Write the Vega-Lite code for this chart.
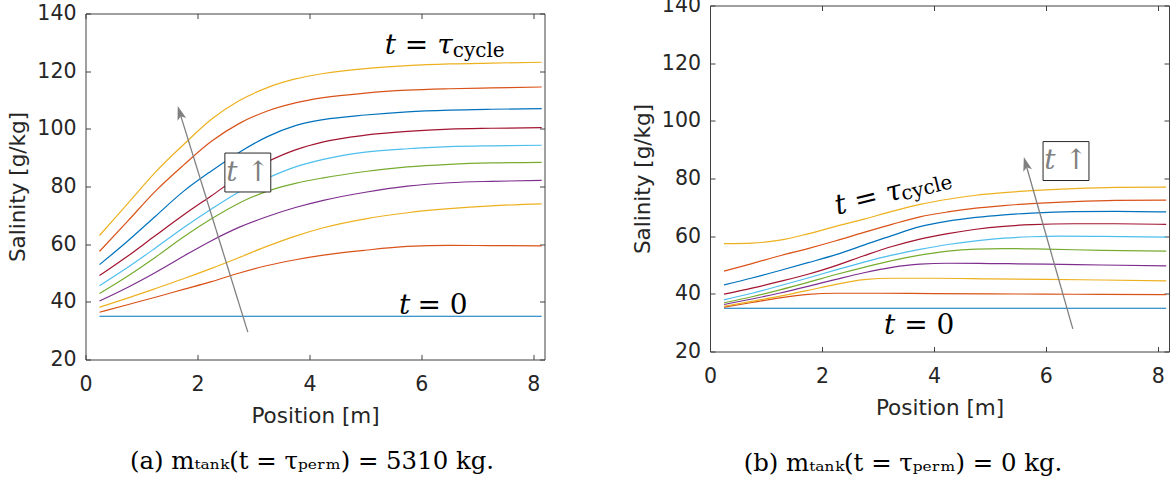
{
  "$schema": "https://vega.github.io/schema/vega-lite/v6.json",
  "background": "white",
  "padding": {"left": 7.5, "top": -4.5, "right": 0, "bottom": 0},
  "spacing": 86.5,
  "config": {
    "view": {"stroke": null},
    "axis": {
      "labelFont": "DejaVu Sans", "titleFont": "DejaVu Sans",
      "labelFontSize": 20.5, "titleFontSize": 21.5, "titleFontWeight": "normal",
      "labelColor": "#262626", "titleColor": "#262626",
      "domainColor": "#404040", "tickColor": "#404040", "domainWidth": 1, "tickWidth": 1,
      "grid": false
    }
  },
  "datasets": {
    "L": [
      {"x":0.25,"y":35,"s":0},{"x":8.15,"y":35,"s":0},
      {"x":0.25,"y":36.4,"s":1},{"x":0.75,"y":39.0,"s":1},{"x":1.25,"y":41.6,"s":1},{"x":1.75,"y":44.3,"s":1},{"x":2.25,"y":47.0,"s":1},{"x":2.75,"y":50.0,"s":1},{"x":3.25,"y":52.6,"s":1},{"x":3.75,"y":54.6,"s":1},{"x":4.25,"y":56.2,"s":1},{"x":5,"y":57.9,"s":1},{"x":5.75,"y":59.2,"s":1},{"x":6.5,"y":59.6,"s":1},{"x":7.25,"y":59.5,"s":1},{"x":8.15,"y":59.4,"s":1},
      {"x":0.25,"y":38.1,"s":2},{"x":0.75,"y":41.3,"s":2},{"x":1.25,"y":44.6,"s":2},{"x":1.75,"y":48.0,"s":2},{"x":2.25,"y":51.6,"s":2},{"x":2.75,"y":55.4,"s":2},{"x":3.25,"y":59.3,"s":2},{"x":3.75,"y":62.8,"s":2},{"x":4.25,"y":65.7,"s":2},{"x":5,"y":68.8,"s":2},{"x":5.75,"y":70.9,"s":2},{"x":6.5,"y":72.3,"s":2},{"x":7.25,"y":73.3,"s":2},{"x":8.15,"y":74.0,"s":2},
      {"x":0.25,"y":40.3,"s":3},{"x":0.75,"y":45.0,"s":3},{"x":1.25,"y":50.2,"s":3},{"x":1.75,"y":55.8,"s":3},{"x":2.25,"y":61.2,"s":3},{"x":2.75,"y":65.9,"s":3},{"x":3.25,"y":69.6,"s":3},{"x":3.75,"y":72.7,"s":3},{"x":4.25,"y":75.2,"s":3},{"x":5,"y":78.0,"s":3},{"x":5.75,"y":80.1,"s":3},{"x":6.5,"y":81.3,"s":3},{"x":7.25,"y":81.8,"s":3},{"x":8.15,"y":82.1,"s":3},
      {"x":0.25,"y":42.9,"s":4},{"x":0.75,"y":48.9,"s":4},{"x":1.25,"y":55.5,"s":4},{"x":1.75,"y":62.5,"s":4},{"x":2.25,"y":68.8,"s":4},{"x":2.75,"y":74.3,"s":4},{"x":3.25,"y":78.4,"s":4},{"x":3.75,"y":81.1,"s":4},{"x":4.25,"y":83.0,"s":4},{"x":5,"y":85.2,"s":4},{"x":5.75,"y":86.8,"s":4},{"x":6.5,"y":87.7,"s":4},{"x":7.25,"y":88.2,"s":4},{"x":8.15,"y":88.4,"s":4},
      {"x":0.25,"y":45.6,"s":5},{"x":0.75,"y":51.9,"s":5},{"x":1.25,"y":58.7,"s":5},{"x":1.75,"y":65.7,"s":5},{"x":2.25,"y":72.2,"s":5},{"x":2.75,"y":78.2,"s":5},{"x":3.25,"y":82.9,"s":5},{"x":3.75,"y":86.8,"s":5},{"x":4.25,"y":89.4,"s":5},{"x":5,"y":91.9,"s":5},{"x":5.75,"y":93.1,"s":5},{"x":6.5,"y":93.8,"s":5},{"x":7.25,"y":94.1,"s":5},{"x":8.15,"y":94.3,"s":5},
      {"x":0.25,"y":49.1,"s":6},{"x":0.75,"y":55.8,"s":6},{"x":1.25,"y":63.0,"s":6},{"x":1.75,"y":70.1,"s":6},{"x":2.25,"y":76.8,"s":6},{"x":2.75,"y":83.5,"s":6},{"x":3.25,"y":88.6,"s":6},{"x":3.75,"y":92.7,"s":6},{"x":4.25,"y":95.5,"s":6},{"x":5,"y":97.8,"s":6},{"x":5.75,"y":99.1,"s":6},{"x":6.5,"y":99.9,"s":6},{"x":7.25,"y":100.2,"s":6},{"x":8.15,"y":100.4,"s":6},
      {"x":0.25,"y":52.9,"s":7},{"x":0.75,"y":61.0,"s":7},{"x":1.25,"y":69.7,"s":7},{"x":1.75,"y":78.3,"s":7},{"x":2.25,"y":85.4,"s":7},{"x":2.75,"y":91.9,"s":7},{"x":3.25,"y":97.3,"s":7},{"x":3.75,"y":101.1,"s":7},{"x":4.25,"y":103.2,"s":7},{"x":5,"y":104.8,"s":7},{"x":5.75,"y":105.9,"s":7},{"x":6.5,"y":106.5,"s":7},{"x":7.25,"y":106.8,"s":7},{"x":8.15,"y":107.0,"s":7},
      {"x":0.25,"y":57.5,"s":8},{"x":0.75,"y":67.9,"s":8},{"x":1.25,"y":78.4,"s":8},{"x":1.75,"y":87.4,"s":8},{"x":2.25,"y":95.7,"s":8},{"x":2.75,"y":101.9,"s":8},{"x":3.25,"y":106.2,"s":8},{"x":3.75,"y":109.0,"s":8},{"x":4.25,"y":110.8,"s":8},{"x":5,"y":112.4,"s":8},{"x":5.75,"y":113.4,"s":8},{"x":6.5,"y":113.9,"s":8},{"x":7.25,"y":114.2,"s":8},{"x":8.15,"y":114.5,"s":8},
      {"x":0.25,"y":63.0,"s":9},{"x":0.75,"y":74.0,"s":9},{"x":1.25,"y":85.0,"s":9},{"x":1.75,"y":94.5,"s":9},{"x":2.25,"y":103.3,"s":9},{"x":2.75,"y":109.8,"s":9},{"x":3.25,"y":114.3,"s":9},{"x":3.75,"y":117.3,"s":9},{"x":4.25,"y":119.2,"s":9},{"x":5,"y":120.9,"s":9},{"x":5.75,"y":121.9,"s":9},{"x":6.5,"y":122.5,"s":9},{"x":7.25,"y":122.8,"s":9},{"x":8.15,"y":123.1,"s":9}
    ],
    "R": [
      {"x":0.25,"y":35,"s":0},{"x":8.15,"y":35,"s":0},
      {"x":0.25,"y":35.4,"s":1},{"x":0.75,"y":37.0,"s":1},{"x":1.25,"y":38.6,"s":1},{"x":1.75,"y":39.8,"s":1},{"x":2.25,"y":40.2,"s":1},{"x":3,"y":40.2,"s":1},{"x":4,"y":40.1,"s":1},{"x":5,"y":40.0,"s":1},{"x":6,"y":39.9,"s":1},{"x":7,"y":39.8,"s":1},{"x":8.15,"y":39.7,"s":1},
      {"x":0.25,"y":35.7,"s":2},{"x":0.75,"y":37.4,"s":2},{"x":1.25,"y":39.2,"s":2},{"x":1.75,"y":41.2,"s":2},{"x":2.25,"y":43.3,"s":2},{"x":2.75,"y":44.9,"s":2},{"x":3.25,"y":45.4,"s":2},{"x":4,"y":45.4,"s":2},{"x":5,"y":45.2,"s":2},{"x":6,"y":45.0,"s":2},{"x":7,"y":44.8,"s":2},{"x":8.15,"y":44.5,"s":2},
      {"x":0.25,"y":36.3,"s":3},{"x":0.75,"y":38.2,"s":3},{"x":1.25,"y":40.3,"s":3},{"x":1.75,"y":42.6,"s":3},{"x":2.25,"y":45.0,"s":3},{"x":2.75,"y":47.3,"s":3},{"x":3.25,"y":49.2,"s":3},{"x":3.75,"y":50.3,"s":3},{"x":4.25,"y":50.6,"s":3},{"x":5,"y":50.5,"s":3},{"x":6,"y":50.3,"s":3},{"x":7,"y":50.0,"s":3},{"x":8.15,"y":49.7,"s":3},
      {"x":0.25,"y":36.9,"s":4},{"x":0.75,"y":39.0,"s":4},{"x":1.25,"y":41.4,"s":4},{"x":1.75,"y":44.0,"s":4},{"x":2.25,"y":46.7,"s":4},{"x":2.75,"y":49.2,"s":4},{"x":3.25,"y":51.5,"s":4},{"x":3.75,"y":53.4,"s":4},{"x":4.25,"y":54.8,"s":4},{"x":4.75,"y":55.5,"s":4},{"x":5.25,"y":55.7,"s":4},{"x":6,"y":55.5,"s":4},{"x":7,"y":55.1,"s":4},{"x":8.15,"y":54.8,"s":4},
      {"x":0.25,"y":37.9,"s":5},{"x":0.75,"y":40.2,"s":5},{"x":1.25,"y":42.8,"s":5},{"x":1.75,"y":45.5,"s":5},{"x":2.25,"y":48.3,"s":5},{"x":2.75,"y":51.0,"s":5},{"x":3.25,"y":53.4,"s":5},{"x":3.75,"y":55.4,"s":5},{"x":4.25,"y":57.1,"s":5},{"x":4.75,"y":58.4,"s":5},{"x":5.25,"y":59.3,"s":5},{"x":5.75,"y":59.8,"s":5},{"x":6.25,"y":60.0,"s":5},{"x":7,"y":59.9,"s":5},{"x":8.15,"y":59.7,"s":5},
      {"x":0.25,"y":39.9,"s":6},{"x":0.75,"y":42.0,"s":6},{"x":1.25,"y":44.3,"s":6},{"x":1.75,"y":46.8,"s":6},{"x":2.25,"y":49.8,"s":6},{"x":2.75,"y":53.2,"s":6},{"x":3.25,"y":56.4,"s":6},{"x":3.75,"y":59.0,"s":6},{"x":4.25,"y":60.9,"s":6},{"x":4.75,"y":62.4,"s":6},{"x":5.25,"y":63.4,"s":6},{"x":5.75,"y":64.0,"s":6},{"x":6.5,"y":64.3,"s":6},{"x":7.25,"y":64.3,"s":6},{"x":8.15,"y":64.1,"s":6},
      {"x":0.25,"y":43.1,"s":7},{"x":0.75,"y":45.5,"s":7},{"x":1.25,"y":48.1,"s":7},{"x":1.75,"y":50.8,"s":7},{"x":2.25,"y":53.6,"s":7},{"x":2.75,"y":56.9,"s":7},{"x":3.25,"y":60.2,"s":7},{"x":3.75,"y":63.3,"s":7},{"x":4.25,"y":65.2,"s":7},{"x":4.75,"y":66.5,"s":7},{"x":5.25,"y":67.4,"s":7},{"x":5.75,"y":68.0,"s":7},{"x":6.5,"y":68.5,"s":7},{"x":7.25,"y":68.6,"s":7},{"x":8.15,"y":68.4,"s":7},
      {"x":0.25,"y":47.9,"s":8},{"x":0.75,"y":50.5,"s":8},{"x":1.25,"y":53.2,"s":8},{"x":1.75,"y":55.7,"s":8},{"x":2.25,"y":58.4,"s":8},{"x":2.75,"y":61.3,"s":8},{"x":3.25,"y":64.1,"s":8},{"x":3.75,"y":66.7,"s":8},{"x":4.25,"y":68.4,"s":8},{"x":4.75,"y":69.7,"s":8},{"x":5.25,"y":70.6,"s":8},{"x":5.75,"y":71.3,"s":8},{"x":6.5,"y":72.0,"s":8},{"x":7.25,"y":72.4,"s":8},{"x":8.15,"y":72.5,"s":8},
      {"x":0.25,"y":57.4,"s":9},{"x":0.75,"y":57.6,"s":9},{"x":1.25,"y":58.6,"s":9},{"x":1.75,"y":60.8,"s":9},{"x":2.25,"y":63.4,"s":9},{"x":2.75,"y":65.9,"s":9},{"x":3.25,"y":68.6,"s":9},{"x":3.75,"y":71.0,"s":9},{"x":4.25,"y":72.8,"s":9},{"x":4.75,"y":74.2,"s":9},{"x":5.25,"y":75.1,"s":9},{"x":5.75,"y":75.8,"s":9},{"x":6.5,"y":76.5,"s":9},{"x":7.25,"y":76.9,"s":9},{"x":8.15,"y":77.0,"s":9}
    ]
  },
  "hconcat": [
    {
      "bounds": "flush",
      "spacing": 0,
      "vconcat": [
        {"width": 459, "height": 8, "data": {"values": []}, "mark": "point"},
        {
          "width": 459, "height": 346,
          "title": {"text": "(a) mₜₐₙₖ(t = τₚₑᵣₘ) = 5310 kg.", "orient": "bottom", "anchor": "middle", "dx": -3, "offset": 23, "font": "DejaVu Serif", "fontSize": 24.4, "fontWeight": "normal", "color": "#000000"},
          "layer": [
            {
              "data": {"name": "L"},
              "mark": {"type": "line", "strokeWidth": 1.2, "interpolate": "monotone"},
              "encoding": {
                "x": {"field": "x", "type": "quantitative", "scale": {"domain": [0, 8.2], "nice": false, "zero": false},
                      "axis": {"orient": "bottom", "values": [0, 2, 4, 6, 8], "title": "Position [m]", "tickSize": -5, "labelPadding": 19.5, "labelFlush": false, "titlePadding": 11}},
                "y": {"field": "y", "type": "quantitative", "scale": {"domain": [20, 140], "nice": false, "zero": false},
                      "axis": {"orient": "left", "values": [20, 40, 60, 80, 100, 120, 140], "title": "Salinity [g/kg]", "tickSize": -5, "labelPadding": 14.5, "titlePadding": 7}},
                "color": {"field": "s", "type": "nominal", "legend": null,
                          "scale": {"domain": [0,1,2,3,4,5,6,7,8,9], "range": ["#0072BD","#D95319","#EDB120","#7E2F8E","#77AC30","#4DBEEE","#A2142F","#0072BD","#D95319","#EDB120"]}}
              }
            },
            {
              "data": {"values": [{"x": 2.90, "y": 29.5, "x2": 1.691, "y2": 105.18}]},
              "mark": {"type": "rule", "color": "#808080", "strokeWidth": 1.3},
              "encoding": {
                "x": {"field": "x", "type": "quantitative", "axis": {"orient": "top", "values": [0, 2, 4, 6, 8], "labels": false, "tickSize": -5, "title": null}},
                "y": {"field": "y", "type": "quantitative", "axis": {"orient": "right", "values": [20, 40, 60, 80, 100, 120, 140], "labels": false, "tickSize": -5, "title": null}},
                "x2": {"field": "x2"}, "y2": {"field": "y2"}
              }
            },
            {
              "data": {"values": [{"x": 1.691, "y": 105.18}]},
              "mark": {"type": "point", "shape": "M0,-1L0.55,0.7L0,0.3L-0.55,0.7Z", "size": 270, "filled": true, "color": "#808080", "opacity": 1, "angle": 342.8},
              "encoding": {
                "x": {"field": "x", "type": "quantitative", "axis": null},
                "y": {"field": "y", "type": "quantitative", "axis": null}
              }
            },
            {
              "data": {"values": [{"x": 2.49, "x2": 3.31, "y": 91.6, "y2": 78.1}]},
              "mark": {"type": "rect", "fill": "white", "stroke": "#262626", "strokeWidth": 1},
              "encoding": {
                "x": {"field": "x", "type": "quantitative", "axis": null},
                "x2": {"field": "x2"},
                "y": {"field": "y", "type": "quantitative", "axis": null},
                "y2": {"field": "y2"}
              }
            },
            {
              "data": {"values": [{"x": 2.902, "y": 84.82, "t": "t ↑"}]},
              "mark": {"type": "text", "font": "DejaVu Serif", "fontSize": 28, "fontStyle": "italic", "color": "#808080", "align": "center", "baseline": "middle"},
              "encoding": {
                "x": {"field": "x", "type": "quantitative", "axis": null},
                "y": {"field": "y", "type": "quantitative", "axis": null},
                "text": {"field": "t"}
              }
            },
            {
              "data": {"values": [{"x": 5.345, "y": 126.0, "t": "t = τ"}, {"x": 5.6, "y": 35.85, "t": "t"}]},
              "mark": {"type": "text", "font": "DejaVu Serif", "fontSize": 28, "fontStyle": "italic", "color": "#000000", "align": "left", "baseline": "alphabetic"},
              "encoding": {
                "x": {"field": "x", "type": "quantitative", "axis": null},
                "y": {"field": "y", "type": "quantitative", "axis": null},
                "text": {"field": "t"}
              }
            },
            {
              "data": {"values": [{"x": 5.929, "y": 35.85, "t": "= 0"}]},
              "mark": {"type": "text", "font": "DejaVu Serif", "fontSize": 28, "color": "#000000", "align": "left", "baseline": "alphabetic"},
              "encoding": {
                "x": {"field": "x", "type": "quantitative", "axis": null},
                "y": {"field": "y", "type": "quantitative", "axis": null},
                "text": {"field": "t"}
              }
            },
            {
              "data": {"values": [{"x": 6.56, "y": 125.0, "t": "cycle"}]},
              "mark": {"type": "text", "font": "DejaVu Serif", "fontSize": 20, "color": "#000000", "align": "left", "baseline": "alphabetic"},
              "encoding": {
                "x": {"field": "x", "type": "quantitative", "axis": null},
                "y": {"field": "y", "type": "quantitative", "axis": null},
                "text": {"field": "t"}
              }
            }
          ],
          "resolve": {"axis": {"x": "independent", "y": "independent"}}
        }
      ]
    },
    {
      "width": 459, "height": 346,
      "title": {"text": "(b) mₜₐₙₖ(t = τₚₑᵣₘ) = 0 kg.", "orient": "bottom", "anchor": "middle", "dx": -36.5, "offset": 32.5, "font": "DejaVu Serif", "fontSize": 24.4, "fontWeight": "normal", "color": "#000000"},
      "layer": [
        {
          "data": {"name": "R"},
          "mark": {"type": "line", "strokeWidth": 1.2, "interpolate": "monotone"},
          "encoding": {
            "x": {"field": "x", "type": "quantitative", "scale": {"domain": [0, 8.2], "nice": false, "zero": false},
                  "axis": {"orient": "bottom", "values": [0, 2, 4, 6, 8], "title": "Position [m]", "tickSize": -5, "labelPadding": 19.5, "labelFlush": false, "titlePadding": 11}},
            "y": {"field": "y", "type": "quantitative", "scale": {"domain": [20, 140], "nice": false, "zero": false},
                  "axis": {"orient": "left", "values": [20, 40, 60, 80, 100, 120, 140], "title": "Salinity [g/kg]", "tickSize": -5, "labelPadding": 14.5, "titlePadding": 7}},
            "color": {"field": "s", "type": "nominal", "legend": null,
                      "scale": {"domain": [0,1,2,3,4,5,6,7,8,9], "range": ["#0072BD","#D95319","#EDB120","#7E2F8E","#77AC30","#4DBEEE","#A2142F","#0072BD","#D95319","#EDB120"]}}
          }
        },
        {
          "data": {"values": [{"x": 6.482, "y": 27.87, "x2": 5.647, "y2": 84.69}]},
          "mark": {"type": "rule", "color": "#808080", "strokeWidth": 1.3},
          "encoding": {
            "x": {"field": "x", "type": "quantitative", "axis": {"orient": "top", "values": [0, 2, 4, 6, 8], "labels": false, "tickSize": -5, "title": null}},
            "y": {"field": "y", "type": "quantitative", "axis": {"orient": "right", "values": [20, 40, 60, 80, 100, 120, 140], "labels": false, "tickSize": -5, "title": null}},
            "x2": {"field": "x2"}, "y2": {"field": "y2"}
          }
        },
        {
          "data": {"values": [{"x": 5.647, "y": 84.69}]},
          "mark": {"type": "point", "shape": "M0,-1L0.55,0.7L0,0.3L-0.55,0.7Z", "size": 270, "filled": true, "color": "#808080", "opacity": 1, "angle": 344.1},
          "encoding": {
            "x": {"field": "x", "type": "quantitative", "axis": null},
            "y": {"field": "y", "type": "quantitative", "axis": null}
          }
        },
        {
          "data": {"values": [{"x": 5.95, "x2": 6.77, "y": 92.8, "y2": 79.3}]},
          "mark": {"type": "rect", "fill": "white", "stroke": "#262626", "strokeWidth": 1},
          "encoding": {
            "x": {"field": "x", "type": "quantitative", "axis": null},
            "x2": {"field": "x2"},
            "y": {"field": "y", "type": "quantitative", "axis": null},
            "y2": {"field": "y2"}
          }
        },
        {
          "data": {"values": [{"x": 6.36, "y": 86.07, "t": "t ↑"}]},
          "mark": {"type": "text", "font": "DejaVu Serif", "fontSize": 28, "fontStyle": "italic", "color": "#808080", "align": "center", "baseline": "middle"},
          "encoding": {
            "x": {"field": "x", "type": "quantitative", "axis": null},
            "y": {"field": "y", "type": "quantitative", "axis": null},
            "text": {"field": "t"}
          }
        },
        {
          "data": {"values": [{"x": 2.273, "y": 67.41, "t": "t = τ"}]},
          "mark": {"type": "text", "font": "DejaVu Serif", "fontSize": 28, "fontStyle": "italic", "color": "#000000", "align": "left", "baseline": "alphabetic", "angle": 346},
          "encoding": {
            "x": {"field": "x", "type": "quantitative", "axis": null},
            "y": {"field": "y", "type": "quantitative", "axis": null},
            "text": {"field": "t"}
          }
        },
        {
          "data": {"values": [{"x": 3.45, "y": 72.4, "t": "cycle"}]},
          "mark": {"type": "text", "font": "DejaVu Serif", "fontSize": 20, "color": "#000000", "align": "left", "baseline": "alphabetic", "angle": 346},
          "encoding": {
            "x": {"field": "x", "type": "quantitative", "axis": null},
            "y": {"field": "y", "type": "quantitative", "axis": null},
            "text": {"field": "t"}
          }
        },
        {
          "data": {"values": [{"x": 3.107, "y": 26.1, "t": "t"}]},
          "mark": {"type": "text", "font": "DejaVu Serif", "fontSize": 28, "fontStyle": "italic", "color": "#000000", "align": "left", "baseline": "alphabetic"},
          "encoding": {
            "x": {"field": "x", "type": "quantitative", "axis": null},
            "y": {"field": "y", "type": "quantitative", "axis": null},
            "text": {"field": "t"}
          }
        },
        {
          "data": {"values": [{"x": 3.47, "y": 26.1, "t": "= 0"}]},
          "mark": {"type": "text", "font": "DejaVu Serif", "fontSize": 28, "color": "#000000", "align": "left", "baseline": "alphabetic"},
          "encoding": {
            "x": {"field": "x", "type": "quantitative", "axis": null},
            "y": {"field": "y", "type": "quantitative", "axis": null},
            "text": {"field": "t"}
          }
        }
      ],
      "resolve": {"axis": {"x": "independent", "y": "independent"}}
    }
  ]
}
